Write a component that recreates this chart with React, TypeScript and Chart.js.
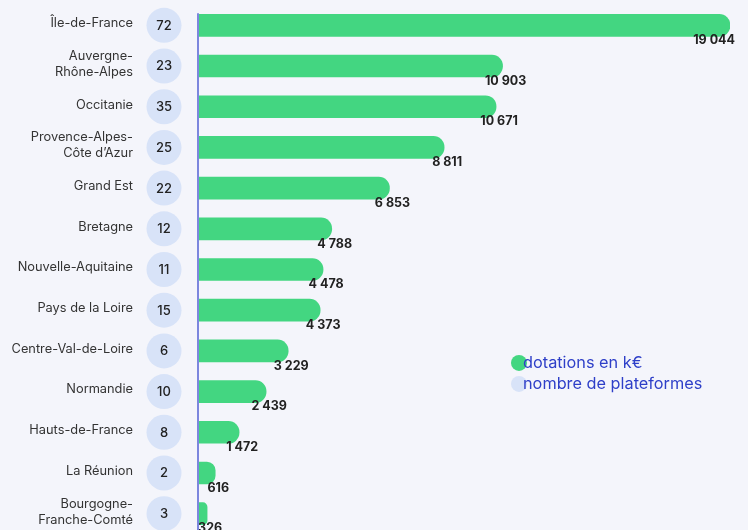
import React, { useEffect, useRef } from "react";
import { Chart, registerables } from "chart.js";

Chart.register(...registerables);

const categories: string[][] = [
  ["Île-de-France"],
  ["Auvergne-", "Rhône-Alpes"],
  ["Occitanie"],
  ["Provence-Alpes-", "Côte d’Azur"],
  ["Grand Est"],
  ["Bretagne"],
  ["Nouvelle-Aquitaine"],
  ["Pays de la Loire"],
  ["Centre-Val-de-Loire"],
  ["Normandie"],
  ["Hauts-de-France"],
  ["La Réunion"],
  ["Bourgogne-", "Franche-Comté"],
];

const dotations: number[] = [19044, 10903, 10671, 8811, 6853, 4788, 4478, 4373, 3229, 2439, 1472, 616, 326];
const plateformes: number[] = [72, 23, 35, 25, 22, 12, 11, 15, 6, 10, 8, 2, 3];

const legendLabels: string[] = ["dotations en k€", "nombre de plateformes"];

const GREEN = "#43D681";
const LIGHT = "#D8E3F8";
const AXIS = "#7C86DE";
const LEGEND_TEXT = "#2E3FC8";
const BG = "#F4F5FB";
const FONT = "Inter, 'Noto Sans', sans-serif";

const fmt = (v: number) => {
  const s = String(v);
  return s.replace(/\B(?=(\d{3})+(?!\d))/g, " ");
};

const overlayPlugin = {
  id: "overlay",
  afterDatasetsDraw(chart: any) {
    const ctx = chart.ctx as CanvasRenderingContext2D;
    const area = chart.chartArea;
    const yScale = chart.scales.y;
    const meta = chart.getDatasetMeta(0);
    ctx.save();

    // category labels + circles
    categories.forEach((lines, i) => {
      const y = yScale.getPixelForValue(i);
      ctx.fillStyle = "#333333";
      ctx.font = `12.8px ${FONT}`;
      ctx.textAlign = "right";
      ctx.textBaseline = "middle";
      const lh = 16;
      const start = y - ((lines.length - 1) * lh) / 2 - 2;
      lines.forEach((ln, k) => ctx.fillText(ln, area.left - 65, start + k * lh));

      const cx = area.left - 34;
      ctx.beginPath();
      ctx.arc(cx, y, 17.5, 0, Math.PI * 2);
      ctx.fillStyle = LIGHT;
      ctx.fill();
      ctx.fillStyle = "#222222";
      ctx.font = `500 13px ${FONT}`;
      ctx.textAlign = "center";
      ctx.fillText(String(plateformes[i]), cx, y + 0.5);
    });

    // value labels
    ctx.font = `bold 12.5px ${FONT}`;
    ctx.fillStyle = "#222222";
    ctx.textAlign = "center";
    ctx.textBaseline = "middle";
    meta.data.forEach((bar: any, i: number) => {
      const p = bar.getProps(["x", "y", "height"], true);
      const txt = fmt(dotations[i]);
      const w = ctx.measureText(txt).width;
      let x = p.x + 3;
      if (x + w / 2 > area.right + 5) x = area.right + 5 - w / 2;
      ctx.fillText(txt, x, p.y + p.height / 2 + 4);
    });

    // axis line
    const first = meta.data[0].getProps(["y", "height"], true);
    ctx.strokeStyle = AXIS;
    ctx.lineWidth = 2;
    ctx.beginPath();
    ctx.moveTo(area.left, first.y - first.height / 2 - 1);
    ctx.lineTo(area.left, area.bottom);
    ctx.stroke();

    // legend
    const lx = area.left + 321;
    const ly = yScale.getPixelForValue(8) + 12;
    const colors = [GREEN, LIGHT];
    legendLabels.forEach((t, k) => {
      const yy = ly + k * 21;
      ctx.beginPath();
      ctx.arc(lx, yy, 8, 0, Math.PI * 2);
      ctx.fillStyle = colors[k];
      ctx.fill();
      ctx.fillStyle = LEGEND_TEXT;
      ctx.font = `16.3px ${FONT}`;
      ctx.textAlign = "left";
      ctx.textBaseline = "middle";
      ctx.fillText(t, lx + 4, yy);
    });
    ctx.restore();
  },
};

export default function App() {
  const ref = useRef<HTMLCanvasElement | null>(null);
  useEffect(() => {
    if (!ref.current) return;
    const chart = new Chart(ref.current, {
      type: "bar",
      data: {
        labels: categories.map((c) => c.join(" ")),
        datasets: [
          {
            label: legendLabels[0],
            data: dotations,
            backgroundColor: GREEN,
            barThickness: 22,
            borderRadius: { topLeft: 0, bottomLeft: 0, topRight: 11, bottomRight: 11 },
            borderSkipped: false,
          },
        ],
      },
      options: {
        indexAxis: "y",
        responsive: false,
        animation: false,
        layout: { padding: { left: 198, right: 18, top: 5, bottom: 11 } },
        plugins: { legend: { display: false }, tooltip: { enabled: false } },
        scales: {
          x: { display: false, min: 0, max: Math.max(...dotations) },
          y: { display: false },
        },
      },
      plugins: [overlayPlugin],
    });
    return () => chart.destroy();
  }, []);
  return (
    <div
      style={{
        position: "absolute",
        top: 0,
        left: 0,
        width: 748,
        height: 530,
        overflow: "hidden",
        background: BG,
      }}
    >
      <canvas ref={ref} width={748} height={545} style={{ display: "block" }} />
    </div>
  );
}
